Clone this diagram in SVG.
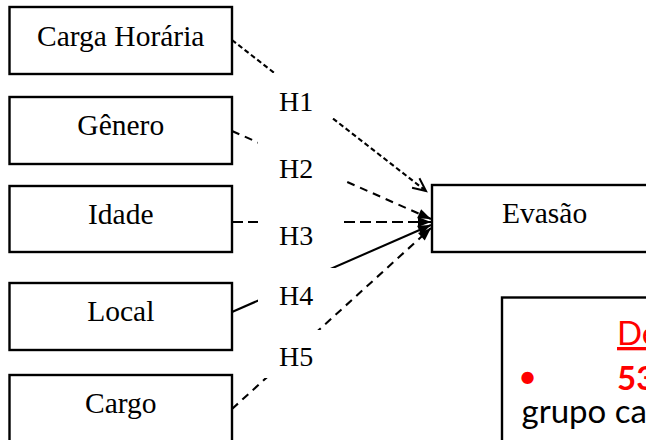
<svg xmlns="http://www.w3.org/2000/svg" width="646" height="440" viewBox="0 0 646 440">
  <style>
    .box { fill: #ffffff; stroke: #000000; stroke-width: 2.4; }
    .lbl { font-family: "Liberation Serif", "Times New Roman", serif; font-size: 28px; fill: #000000; }
    .nt { text-anchor: middle; font-size: 29.5px; }
    .big { font-size: 29.5px; }
    .ln { fill: none; stroke: #000000; stroke-width: 2.1; }
    .mask { fill: #ffffff; stroke: none; }
    .cal { font-family: Lato, "Open Sans", sans-serif; font-size: 33px; }
  </style>
  <defs>
    <marker id="arrFill" markerUnits="userSpaceOnUse" markerWidth="14" markerHeight="12" refX="13" refY="5" orient="auto" overflow="visible">
      <path d="M0,0 L13,5 L0,10 Z" fill="#000000" stroke="none"/>
    </marker>
    <marker id="arrOpen" markerUnits="userSpaceOnUse" markerWidth="16" markerHeight="14" refX="13" refY="6" orient="auto" overflow="visible">
      <path d="M0,0 L13,6 L0,12" fill="none" stroke="#000000" stroke-width="2" stroke-dasharray="none"/>
    </marker>
  </defs>
  <rect width="646" height="440" fill="#ffffff"/>

  <g id="connectors">
    <line id="c-h1" class="ln" x1="232" y1="40" x2="426" y2="191" stroke-dasharray="5 3" marker-end="url(#arrOpen)"/>
    <line id="c-h2" class="ln" x1="232" y1="131" x2="431" y2="219" stroke-dasharray="8 6" marker-end="url(#arrFill)"/>
    <line id="c-h3" class="ln" x1="232" y1="222" x2="431" y2="222" stroke-dasharray="11 5" marker-end="url(#arrFill)"/>
    <line id="c-h4" class="ln" x1="232" y1="312" x2="431" y2="225" marker-end="url(#arrFill)"/>
    <line id="c-h5" class="ln" x1="232" y1="409" x2="431" y2="228" stroke-dasharray="8 6" marker-end="url(#arrFill)"/>
    <g id="labels">
      <rect class="mask" x="258" y="73" width="85" height="45"/>
      <text class="lbl" x="279" y="111">H1</text>
      <rect class="mask" x="258" y="136" width="85" height="45"/>
      <text class="lbl" x="279" y="177.5">H2</text>
      <rect class="mask" x="258" y="202" width="86" height="48"/>
      <text class="lbl" x="279" y="245">H3</text>
      <rect class="mask" x="258" y="268" width="85" height="37"/>
      <text class="lbl" x="279" y="305">H4</text>
      <rect class="mask" x="258" y="330" width="85" height="48"/>
      <text class="lbl" x="279" y="365.5">H5</text>
    </g>
  </g>

  <g id="n-carga">
    <rect class="box" x="9.5" y="7" width="222.5" height="67"/>
    <text class="lbl nt" x="120.75" y="45.5">Carga Horária</text>
  </g>
  <g id="n-genero">
    <rect class="box" x="9.5" y="97" width="222.5" height="67"/>
    <text class="lbl nt" x="120.75" y="135">Gênero</text>
  </g>
  <g id="n-idade">
    <rect class="box" x="9.5" y="186" width="222.5" height="66"/>
    <text class="lbl nt" x="120.75" y="223.5">Idade</text>
  </g>
  <g id="n-local">
    <rect class="box" x="9.5" y="283" width="222.5" height="67"/>
    <text class="lbl nt" x="120.75" y="321.3">Local</text>
  </g>
  <g id="n-cargo">
    <rect class="box" x="9.5" y="375" width="222.5" height="80"/>
    <text class="lbl nt" x="120.75" y="413.3">Cargo</text>
  </g>
  <g id="n-evasao">
    <rect class="box" x="432" y="185" width="240" height="67"/>
    <text class="lbl big" x="502" y="223">Evasão</text>
  </g>
  <g id="n-note">
    <rect class="box" x="502" y="297.5" width="170" height="160"/>
    <text class="cal" x="617" y="345" fill="#ff0000" text-decoration="underline">De</text>
    <text class="cal" x="527.5" y="388" fill="#ff0000" text-anchor="middle">•</text>
    <text class="cal" x="617" y="390" fill="#ff0000" font-weight="bold">53</text>
    <text class="cal" x="521.5" y="423.3" fill="#000000">grupo ca</text>
  </g>
</svg>
